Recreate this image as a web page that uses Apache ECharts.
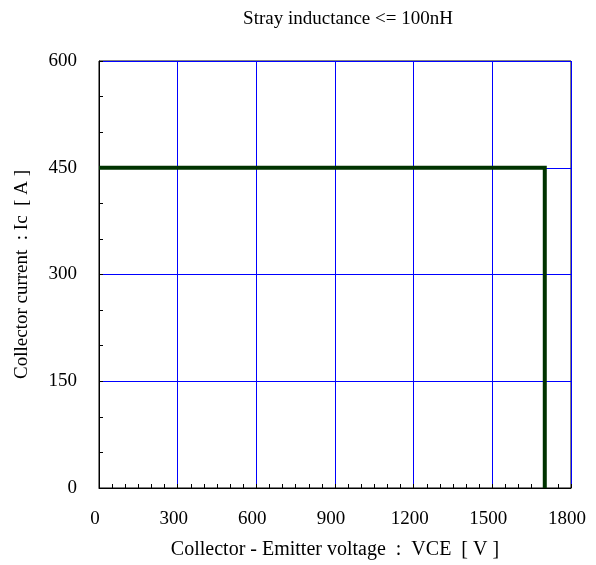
<!DOCTYPE html>
<html>
<head>
<meta charset="utf-8">
<script src="https://cdn.jsdelivr.net/npm/echarts@6/dist/echarts.min.js"></script>
<style>
  html, body { margin: 0; padding: 0; background: #fff; }
  #chart { width: 596px; height: 565px; }
</style>
</head>
<body>
<div id="chart"></div>
<script>
// RBSOA boundary (VCE [V], Ic [A])
const vce = [0, 1700, 1700];
const ic = [450, 450, 0];
const xTicks = [0, 300, 600, 900, 1200, 1500, 1800];
const yTicks = [0, 150, 300, 450, 600];

const chart = echarts.init(document.getElementById('chart'));
const font = 'Liberation Serif';

const option = {
  animation: false,
  backgroundColor: '#fff',
  title: {
    text: 'Stray inductance <= 100nH',
    left: 343,
    top: 5,
    textAlign: 'center',
    textStyle: { fontFamily: font, fontSize: 19, fontWeight: 'normal', color: '#000' }
  },
  grid: {
    left: 99, right: 25, top: 61, bottom: 76,
    show: true, borderColor: '#000', borderWidth: 1
  },
  xAxis: {
    type: 'value',
    min: xTicks[0], max: xTicks[xTicks.length - 1], interval: 300,
    name: 'Collector - Emitter voltage  :  VCE  [ V ]',
    nameLocation: 'middle', nameGap: 52,
    nameTextStyle: { fontFamily: font, fontSize: 20, color: '#000' },
    axisLine: { lineStyle: { color: '#000', width: 1 } },
    axisTick: { inside: true, length: 4, lineStyle: { color: '#000' } },
    minorTick: { show: true, splitNumber: 6, length: 4, lineStyle: { color: '#000' } },
    axisLabel: {
      margin: 22, fontFamily: font, fontSize: 19, color: '#000',
      padding: [0, 8, 0, 0],
      formatter: v => String(v)
    },
    splitLine: { show: true, lineStyle: { color: '#0000ff', width: 1 } }
  },
  yAxis: {
    type: 'value',
    min: yTicks[0], max: yTicks[yTicks.length - 1], interval: 150,
    name: 'Collector current  : Ic  [ A ]',
    nameLocation: 'middle', nameGap: 67,
    nameTextStyle: { fontFamily: font, fontSize: 19, color: '#000' },
    axisLine: { show: true, lineStyle: { color: '#000', width: 1 } },
    axisTick: { show: true, inside: true, length: 4, lineStyle: { color: '#000' } },
    minorTick: { show: true, splitNumber: 3, length: 4, lineStyle: { color: '#000' } },
    axisLabel: { margin: 22, fontFamily: font, fontSize: 19, color: '#000', formatter: v => String(v) },
    splitLine: { show: true, lineStyle: { color: '#0000ff', width: 1 } }
  },
  series: [{
    type: 'line',
    data: vce.map((v, i) => [v, ic[i]]),
    showSymbol: false,
    lineStyle: { color: '#003300', width: 4, join: 'miter' },
    z: 5
  }]
};

chart.setOption(option);
</script>
</body>
</html>
